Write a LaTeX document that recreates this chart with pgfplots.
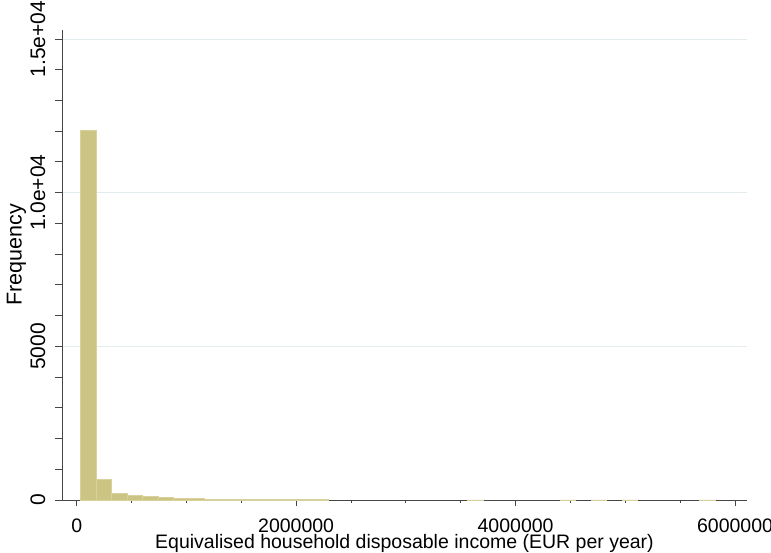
\documentclass[border=0pt]{standalone}
\usepackage{fontspec}
\setmainfont{Liberation Sans}
\usepackage{pgfplots}
\pgfplotsset{compat=1.18}
\definecolor{barfill}{RGB}{204,196,130}
\definecolor{barline}{RGB}{216,209,156}
\definecolor{gridc}{RGB}{226,236,238}
\definecolor{axc}{RGB}{70,70,70}
\pgfplotstableread{
x y
106500 12020
247500 674
388500 218
529500 153
670500 108
811500 75
952500 55
1093500 40
1234500 32
1375500 26
1516500 22
1657500 20
1798500 18
1939500 16
2080500 14
2221500 12
3631500 3
4477500 2
4759500 3
5041500 2
5746500 2
}\histdata
\begin{document}
\begin{tikzpicture}
\begin{axis}[
  at={(0,0)}, anchor=south west,
  scale only axis, width=685bp, height=470.2bp,
  xmin=-134000, xmax=6109000, ymin=0, ymax=15300,
  axis x line*=bottom, axis y line*=left,
  axis line style={draw=axc, line width=0.9bp},
  tick align=outside,
  tick style={draw=axc, line width=0.9bp},
  major tick length=6.5bp, minor tick length=3bp,
  xtick={0,2000000,4000000,6000000},
  xticklabels={0,2000000,4000000,6000000},
  minor xtick={500000,1000000,1500000,2500000,3000000,3500000,4500000,5000000,5500000},
  ytick={0,5000,10000,15000},
  yticklabels={0,5000,1.0e+04,1.5e+04},
  extra y ticks={1000,2000,3000,4000,6000,7000,8000,9000,11000,12000,13000,14000},
  extra y tick labels={},
  extra y tick style={grid=none},
  scaled x ticks=false, scaled y ticks=false,
  ymajorgrids,
  major grid style={draw=gridc, line width=0.9bp},
  xticklabel style={anchor=north, inner sep=0pt, font=\fontsize{19.5bp}{23bp}\selectfont},
  xticklabel shift=12bp,
  yticklabel style={rotate=90, anchor=south, inner sep=0pt, font=\fontsize{21bp}{24bp}\selectfont},
  yticklabel shift=10bp,
  xlabel={Equivalised household disposable income (EUR per year)},
  ylabel={Frequency},
  every axis x label/.style={at={(axis description cs:0.5,-0.1025)}, anchor=base, inner sep=0pt, font=\fontsize{19.5bp}{23bp}\selectfont},
  every axis y label/.style={at={(axis description cs:-0.0591,0.521)}, rotate=90, anchor=base, inner sep=0pt, font=\fontsize{21.5bp}{25bp}\selectfont},
  clip=false,
]
\addplot[ybar, bar width=141000, bar shift=0pt, fill=barfill, draw=barline, line width=0.8bp] table[x=x,y=y] {\histdata};
\end{axis}
\pgfresetboundingbox
\useasboundingbox (-62bp,-53bp) rectangle (709bp,500bp);
\end{tikzpicture}
\end{document}
